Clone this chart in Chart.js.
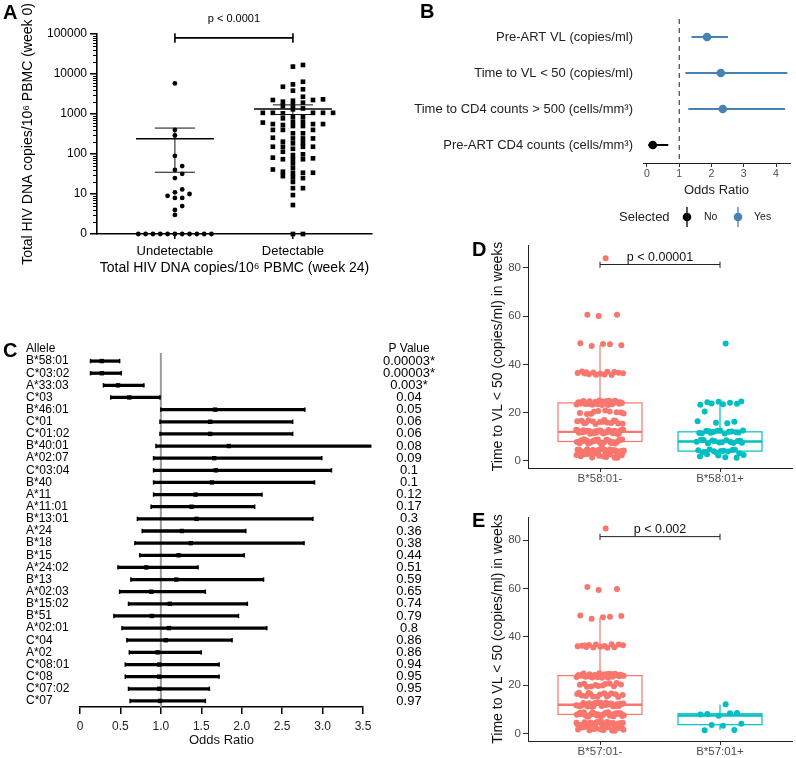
<!DOCTYPE html>
<html><head><meta charset="utf-8">
<script src="https://cdn.jsdelivr.net/npm/chart.js@4.4.0/dist/chart.umd.min.js"></script>
<style>
html,body{margin:0;padding:0;background:#fff;}
#wrap{position:relative;width:796px;height:758px;overflow:hidden;font-family:'Liberation Sans',Arial,Helvetica,sans-serif;}
canvas{position:absolute;}
.lab{position:absolute;font-weight:bold;font-size:20px;line-height:20px;color:#000;}
</style></head><body>
<div id="wrap">
<canvas id="cA" width="380" height="290" style="left:0;top:0"></canvas>
<canvas id="cB" width="396" height="235" style="left:400px;top:0"></canvas>
<canvas id="cC" width="445" height="438" style="left:0;top:320px"></canvas>
<canvas id="cD" width="396" height="258" style="left:400px;top:230px"></canvas>
<canvas id="cE" width="396" height="268" style="left:400px;top:490px"></canvas>
<div class="lab" style="left:3px;top:2px">A</div>
<div class="lab" style="left:420px;top:1px">B</div>
<div class="lab" style="left:3px;top:340px">C</div>
<div class="lab" style="left:472px;top:239px">D</div>
<div class="lab" style="left:472px;top:510px">E</div>
</div>
<script>
// ---------------- Panel A data ----------------
const aCategories = ['Undetectable', 'Detectable'];
const aUndetectable = [5800, 400, 290, 90, 50, 40, 32, 25, 13, 11, 10, 9, 8, 8, 5, 4, 3, 0, 0, 0, 0, 0, 0, 0, 0, 0, 0, 0];
const aDetectable = [16800, 15300,
  2330, 1070, 530, 255,
  2150, 1070, 645, 400, 203, 152, 135, 81, 41,
  6400, 4800, 2030, 1580, 855, 645, 500, 400, 245, 152, 74, 34, 28, 25,
  5500, 3830, 1680, 1310, 1070, 560, 330, 192, 98, 74, 58, 44, 33, 26, 20, 14, 14, 9.4, 5.3,
  4150, 2700, 1920, 1070, 560, 330, 245, 185, 152, 94, 74, 34,
  2240, 1380, 1070, 855, 560, 400, 245, 152, 114, 78, 36,
  2240, 1040, 780, 610, 500,
  0, 0];
const aMean = [240, 1330];
const aSpread = [205, 360];
const aYTicks = [1, 10, 100, 1000, 10000, 100000];
const aYTickLabels = ['0', '10', '100', '1000', '10000', '100000'];
const aPText = 'p < 0.0001';

// ---------------- Panel B data ----------------
const bFactors = ['Pre-ART VL (copies/ml)', 'Time to VL < 50 (copies/ml)', 'Time to CD4 counts > 500 (cells/mm\u00B3)', 'Pre-ART CD4 counts (cells/mm\u00B3)'];
const bOR = [1.86, 2.29, 2.35, 0.18];
const bLow = [1.39, 1.20, 1.29, 0.05];
const bHigh = [2.50, 4.34, 4.27, 0.65];
const bSelected = ['Yes', 'Yes', 'Yes', 'No'];
const bLegendLevels = ['No', 'Yes'];
const bXTicks = [0, 1, 2, 3, 4];

// ---------------- Panel C data ----------------
const cAlleles = ['B*58:01', 'C*03:02', 'A*33:03', 'C*03', 'B*46:01', 'C*01', 'C*01:02', 'B*40:01', 'A*02:07', 'C*03:04', 'B*40', 'A*11', 'A*11:01', 'B*13:01', 'A*24', 'B*18', 'B*15', 'A*24:02', 'B*13', 'A*02:03', 'B*15:02', 'B*51', 'A*02:01', 'C*04', 'A*02', 'C*08:01', 'C*08', 'C*07:02', 'C*07'];
const cOR = [0.27, 0.27, 0.47, 0.61, 1.67, 1.61, 1.61, 1.84, 1.66, 1.68, 1.63, 1.43, 1.38, 1.44, 1.26, 1.37, 1.22, 0.82, 1.19, 0.88, 1.11, 0.89, 1.10, 1.06, 0.96, 0.98, 0.98, 0.98, 0.99];
const cLow = [0.13, 0.13, 0.29, 0.38, 1.00, 0.99, 0.99, 0.94, 0.91, 0.91, 0.91, 0.91, 0.88, 0.71, 0.77, 0.68, 0.74, 0.47, 0.63, 0.49, 0.60, 0.42, 0.52, 0.58, 0.61, 0.56, 0.56, 0.60, 0.62];
const cHigh = [0.49, 0.51, 0.79, 0.99, 2.78, 2.63, 2.63, 3.60, 2.99, 3.11, 2.90, 2.25, 2.16, 2.88, 2.05, 2.77, 2.03, 1.46, 2.27, 1.55, 2.07, 1.96, 2.31, 1.88, 1.50, 1.72, 1.72, 1.60, 1.55];
const cPValues = ['0.00003*', '0.00003*', '0.003*', '0.04', '0.05', '0.06', '0.06', '0.08', '0.09', '0.1', '0.1', '0.12', '0.17', '0.3', '0.36', '0.38', '0.44', '0.51', '0.59', '0.65', '0.74', '0.79', '0.8', '0.86', '0.86', '0.94', '0.95', '0.95', '0.97'];
const cXTicks = [0, 0.5, 1, 1.5, 2, 2.5, 3, 3.5];
const cRefLine = 1;

// ---------------- Panel D data ----------------
const dCategories = ['B*58:01-', 'B*58:01+'];
const dNeg = [84.0, 60.6, 60.6, 60.1, 48.7, 48.3, 47.6, 47.9, 48.4,
  36.2, 36.8, 35.7, 36.4, 36.9, 35.9, 36.5, 36.1, 37.0, 35.6, 36.6, 36.3, 35.8, 36.7,
  24.6, 23.4, 24.1, 24.9, 23.7, 24.3, 23.1, 24.8, 23.9, 24.4, 23.3, 24.7, 23.6, 24.2, 25.0, 23.8, 24.5, 23.2, 24.0, 24.6, 23.5, 24.9, 23.9, 24.3, 23.1, 24.7, 23.6, 24.1, 24.5, 23.4,
  20.3, 19.6, 20.8, 19.4, 20.1, 20.6, 19.8, 20.4, 19.5, 20.0,
  16.2, 15.6, 16.7, 15.3, 16.4, 15.9, 16.8, 15.5, 16.1, 16.6, 15.7, 16.3, 15.4, 16.9, 15.8, 16.5,
  12.3, 11.6, 12.8, 11.2, 12.5, 11.9, 12.7, 11.4, 12.1, 12.9, 11.7, 12.4, 11.1, 12.6, 11.8, 12.2, 11.5, 12.8, 11.3, 12.0, 12.5, 11.6, 12.7, 11.9, 12.3, 11.2, 12.6, 11.8, 12.1, 11.4, 12.9, 11.7,
  8.4, 7.6, 8.8, 7.3, 8.2, 7.9, 8.6, 7.1, 8.9, 7.5, 8.3, 7.8, 8.7, 7.2, 8.1, 7.7, 8.5, 7.4, 8.0, 8.8, 7.6, 8.3, 7.2, 8.6, 7.9, 8.4, 7.5, 8.7, 7.1, 8.2, 7.8, 8.5,
  4.3, 3.6, 4.8, 3.2, 4.5, 3.9, 4.7, 3.4, 4.1, 4.9, 3.7, 4.4, 3.1, 4.6, 3.8, 4.2, 3.5, 4.8, 3.3, 4.0, 4.5, 3.6, 4.7, 3.9, 4.3, 3.2, 4.6, 3.8, 4.1, 3.4, 4.9, 3.7, 4.4, 3.5,
  2.4, 1.6, 2.8, 1.2, 2.1, 1.9, 2.6, 1.4, 2.3, 1.8, 2.7, 1.3];
const dPos = [48.6,
  24.3, 23.6, 24.5, 23.2, 24.1, 23.8, 24.6, 23.4,
  20.4,
  16.2, 15.8, 16.4, 15.6,
  12.2, 11.7, 12.5, 11.4, 12.1, 11.9, 12.6, 11.3, 12.3, 11.8, 12.4, 11.5, 12.0, 11.6,
  8.3, 7.7, 8.6, 7.4, 8.1, 7.9, 8.5, 7.2, 8.2, 7.6, 8.7, 7.8, 8.4, 7.5,
  4.2, 3.6, 4.6, 3.3, 4.4, 3.8, 4.7, 3.1, 4.1, 3.5, 4.5, 3.9,
  2.4, 1.5, 2.7, 1.2, 2.2, 1.8];
const dQ1 = [8, 4], dMedian = [12, 8], dQ3 = [24, 12], dWhiskLo = [1.2, 1.2], dWhiskHi = [48, 24];
const dPText = 'p < 0.00001';

// ---------------- Panel E data ----------------
const eCategories = ['B*57:01-', 'B*57:01+'];
const eNeg = [84.8, 60.6, 59.8, 59.4, 48.8, 48.3, 47.5, 48.6, 48.1,
  36.4, 35.7, 36.8, 36.1, 35.5, 36.6, 36.9, 35.9, 36.3, 37.0, 35.6, 36.5, 36.2, 35.8,
  24.5, 23.3, 24.2, 24.8, 23.6, 24.4, 23.1, 24.9, 23.8, 24.3, 23.4, 24.6, 23.7, 24.1, 25.0, 23.9, 24.7, 23.2, 24.0, 24.5, 23.5, 24.8, 23.8, 24.2, 23.1, 24.6, 23.7, 24.3, 24.4, 23.5, 24.0, 23.9,
  20.5, 19.4, 20.9, 19.7, 20.2, 20.7, 19.5, 20.3, 19.9, 20.6, 19.6, 20.1,
  16.4, 15.5, 16.8, 15.2, 16.2, 15.8, 16.6, 15.4, 16.0, 16.7, 15.6, 16.3, 15.3, 16.9, 15.9, 16.5,
  12.4, 11.5, 12.7, 11.3, 12.6, 11.8, 12.9, 11.2, 12.2, 12.8, 11.6, 12.5, 11.1, 12.3, 11.9, 12.1, 11.4, 12.7, 11.7, 12.0, 12.6, 11.5, 12.8, 11.8, 12.4, 11.3, 12.5, 11.9, 12.2, 11.6, 12.9, 11.4, 12.3, 11.7,
  8.5, 7.5, 8.9, 7.2, 8.3, 7.8, 8.7, 7.1, 8.6, 7.4, 8.2, 7.9, 8.8, 7.3, 8.0, 7.6, 8.4, 7.5, 8.1, 8.9, 7.7, 8.4, 7.2, 8.5, 7.8, 8.3, 7.6, 8.6, 7.1, 8.1, 7.9, 8.7, 7.4, 8.2,
  4.4, 3.5, 4.7, 3.3, 4.6, 3.8, 4.8, 3.2, 4.2, 4.9, 3.6, 4.3, 3.1, 4.5, 3.9, 4.1, 3.4, 4.7, 3.3, 4.0, 4.6, 3.7, 4.8, 3.8, 4.4, 3.1, 4.5, 3.9, 4.2, 3.5, 4.9, 3.6, 4.3, 3.4,
  2.5, 1.5, 2.9, 1.2, 2.2, 1.8, 2.7, 1.4, 2.4, 1.7, 2.6, 1.3, 2.0, 1.6];
const ePos = [12.2, 8.1, 8.6, 7.4, 7.9, 8.5, 3.6, 4.1, 3.3, 1.4, 1.5];
const eQ1 = [8, 3.75], eMedian = [12, 7.5], eQ3 = [24, 8.25], eWhiskLo = [1.2, 1.5], eWhiskHi = [48, 12];
const ePText = 'p < 0.002';
const deYTicks = [0, 20, 40, 60, 80];

// ---------------- common ----------------
const FF = "'Liberation Sans', Arial, Helvetica, sans-serif";
Chart.defaults.font.family = FF;
Chart.defaults.color = '#222';
Chart.defaults.animation = false;
Chart.defaults.responsive = false;
Chart.defaults.devicePixelRatio = 1;
Chart.defaults.plugins.legend.display = false;
Chart.defaults.plugins.tooltip.enabled = false;
if (Chart.defaults.plugins.colors) Chart.defaults.plugins.colors.enabled = false;
const tickArr = arr => (s => { s.ticks = arr.map(v => ({value: v})); });

// beeswarm offsets (column packing) on a log axis
function swarm(values, step, minGap) {
  const key = v => v <= 0 ? 0 : Math.log10(v);
  const order = values.map((v, i) => i).sort((a, b) => key(values[a]) - key(values[b]));
  const placed = [], out = new Array(values.length);
  for (const i of order) {
    const y = key(values[i]);
    for (let n = 0; ; n++) {
      const k = n === 0 ? 0 : (n % 2 ? (n + 1) / 2 : -n / 2);
      if (!placed.some(p => p.k === k && Math.abs(p.y - y) < minGap)) { placed.push({k, y}); out[i] = k * step; break; }
    }
  }
  return out;
}

// ================= Panel A =================
(function () {
  const offU = swarm(aUndetectable, 0.062, 0.115);
  const offD = swarm(aDetectable, 0.085, 0.1);
  const floorV = aYTicks[0];
  const plugin = {
    id: 'aExtras',
    afterDatasetsDraw(chart) {
      const {ctx, scales: {x, y}} = chart;
      ctx.save();
      ctx.strokeStyle = '#000';
      ctx.lineWidth = 1;
      for (let k = 0; k < 5; k++) for (let m = 2; m < 10; m++) {
        const py = Math.round(y.getPixelForValue(m * Math.pow(10, k))) + 0.5;
        ctx.beginPath(); ctx.moveTo(x.left - 4, py); ctx.lineTo(x.left, py); ctx.stroke();
      }
      aMean.forEach((m, g) => {
        const cx = x.getPixelForValue(g);
        const yM = y.getPixelForValue(m), yH = y.getPixelForValue(m + aSpread[g]), yL = y.getPixelForValue(m - aSpread[g]);
        ctx.strokeStyle = '#111'; ctx.lineWidth = 1;
        ctx.beginPath(); ctx.moveTo(cx, yH); ctx.lineTo(cx, yL); ctx.stroke();
        [yH, yL].forEach(py => { ctx.beginPath(); ctx.moveTo(x.getPixelForValue(g - 0.17), py); ctx.lineTo(x.getPixelForValue(g + 0.17), py); ctx.stroke(); });
        ctx.strokeStyle = '#000'; ctx.lineWidth = 1.6;
        ctx.beginPath(); ctx.moveTo(x.getPixelForValue(g - 0.33), yM); ctx.lineTo(x.getPixelForValue(g + 0.33), yM); ctx.stroke();
      });
      const by = y.getPixelForValue(80000), bt = y.getPixelForValue(60000);
      const x0 = x.getPixelForValue(0), x1 = x.getPixelForValue(1);
      ctx.lineWidth = 1.6; ctx.strokeStyle = '#000';
      ctx.beginPath(); ctx.moveTo(x0, y.getPixelForValue(105000)); ctx.lineTo(x0, bt); ctx.moveTo(x0, by); ctx.lineTo(x1, by); ctx.moveTo(x1, y.getPixelForValue(105000)); ctx.lineTo(x1, bt); ctx.stroke();
      ctx.fillStyle = '#000'; ctx.font = '11px ' + FF; ctx.textAlign = 'center'; ctx.textBaseline = 'middle';
      ctx.fillText(aPText, (x0 + x1) / 2, y.getPixelForValue(240000));
      ctx.restore();
    }
  };
  new Chart(document.getElementById('cA'), {
    type: 'scatter',
    data: {datasets: [
      {data: aUndetectable.map((v, i) => ({x: 0 + offU[i], y: Math.max(v, floorV)})), pointStyle: 'circle', pointRadius: 2.4, backgroundColor: '#000', borderColor: '#000', pointBackgroundColor: '#000', pointBorderWidth: 0, clip: false},
      {data: aDetectable.map((v, i) => ({x: 1 + offD[i], y: Math.max(v, floorV)})), pointStyle: 'rect', pointRadius: 3.3, backgroundColor: '#000', borderColor: '#000', pointBackgroundColor: '#000', pointBorderWidth: 0, clip: false}
    ]},
    options: {
      layout: {padding: {left: 0, top: 34, right: 8, bottom: 0}},
      scales: {
        x: {type: 'linear', min: -0.66, max: 1.67, afterBuildTicks: tickArr([0, 1]),
          afterFit: s => { s.height = 56; },
          ticks: {callback: v => aCategories[v], font: {size: 13}, color: '#000', padding: 5, maxRotation: 0},
          grid: {drawOnChartArea: false, tickLength: 5, color: '#000', lineWidth: 1.5},
          border: {display: true, color: '#000', width: 1.6},
          title: {display: true, text: 'Total HIV DNA copies/10\u2076 PBMC (week 24)', font: {size: 14}, color: '#000', padding: {top: 0, bottom: 13.6}}},
        y: {type: 'logarithmic', min: 1, max: 100000, afterBuildTicks: tickArr(aYTicks),
          afterFit: s => { s.width = 97; },
          ticks: {callback: (v, i) => aYTickLabels[i], font: {size: 12}, color: '#000', padding: 3},
          grid: {drawOnChartArea: false, tickLength: 7, color: '#000', lineWidth: 1.5},
          border: {display: true, color: '#000', width: 1.6},
          title: {display: true, text: 'Total HIV DNA copies/10\u2076 PBMC (week 0)', font: {size: 14}, color: '#000', padding: {top: 19.6, bottom: 0}}}
      }
    },
    plugins: [plugin]
  });
})();

// ================= Panel B =================
(function () {
  const colorOf = {No: '#000000', Yes: '#4682B4'};
  const cols = bSelected.map(s => colorOf[s]);
  const plugin = {
    id: 'bExtras',
    beforeDatasetsDraw(chart) {
      const {ctx, chartArea, scales: {x}} = chart;
      const px = x.getPixelForValue(1);
      ctx.save(); ctx.strokeStyle = '#333'; ctx.lineWidth = 1.1; ctx.setLineDash([5, 4]);
      ctx.beginPath(); ctx.moveTo(px, chartArea.top); ctx.lineTo(px, chartArea.bottom); ctx.stroke(); ctx.restore();
    },
    afterDraw(chart) {
      const ctx = chart.ctx;
      const ly = 217;
      ctx.save();
      ctx.fillStyle = '#222'; ctx.textBaseline = 'middle'; ctx.textAlign = 'left';
      ctx.font = '13px ' + FF;
      ctx.fillText('Selected', 219, ly);
      const keys = [{kx: 287, tx: 304}, {kx: 338, tx: 354}];
      bLegendLevels.forEach((lev, i) => {
        const k = keys[i];
        ctx.strokeStyle = colorOf[lev]; ctx.lineWidth = 1.3;
        ctx.beginPath(); ctx.moveTo(k.kx, ly - 10); ctx.lineTo(k.kx, ly + 10); ctx.stroke();
        ctx.fillStyle = colorOf[lev];
        ctx.beginPath(); ctx.arc(k.kx, ly, 4.3, 0, Math.PI * 2); ctx.fill();
        ctx.fillStyle = '#222'; ctx.font = '10.5px ' + FF;
        ctx.fillText(lev, k.tx, ly);
      });
      ctx.restore();
    }
  };
  new Chart(document.getElementById('cB'), {
    type: 'bar',
    data: {labels: bFactors, datasets: [
      {type: 'bar', indexAxis: 'y', order: 2, data: bLow.map((l, i) => [l, bHigh[i]]), backgroundColor: cols, borderColor: cols, borderWidth: 0, barThickness: 1.4, xAxisID: 'x', yAxisID: 'y', clip: false},
      {type: 'line', indexAxis: 'y', order: 1, data: bOR, showLine: false, pointRadius: 4.3, backgroundColor: cols, borderColor: cols, pointBackgroundColor: cols, pointBorderWidth: 0, xAxisID: 'x', yAxisID: 'y', clip: false}
    ]},
    options: {
      indexAxis: 'y',
      layout: {padding: {left: 0, top: 19, right: 6, bottom: 0}},
      scales: {
        y: {type: 'category', position: 'left', offset: true,
          afterFit: s => { s.width = 243; },
          ticks: {font: {size: 13}, color: '#222', crossAlign: 'near', padding: 10, autoSkip: false},
          grid: {display: false, drawTicks: false}, border: {display: false}},
        x: {type: 'linear', min: -0.124, max: 4.434, afterBuildTicks: tickArr(bXTicks),
          afterFit: s => { s.height = 72; },
          ticks: {font: {size: 10.5}, color: '#4d4d4d', padding: 1, maxRotation: 0},
          grid: {drawOnChartArea: false, tickLength: 4, color: '#333', lineWidth: 1},
          border: {display: true, color: '#222', width: 1},
          title: {display: true, text: 'Odds Ratio', font: {size: 13}, color: '#222', padding: {top: 0, bottom: 37}}}
      }
    },
    plugins: [plugin]
  });
})();

// ================= Panel C =================
(function () {
  const pFont = 13, pPad = 20;
  const plugin = {
    id: 'cExtras',
    beforeDatasetsDraw(chart) {
      const {ctx, chartArea, scales: {x}} = chart;
      const px = x.getPixelForValue(cRefLine);
      ctx.save(); ctx.strokeStyle = '#9a9a9a'; ctx.lineWidth = 2;
      ctx.beginPath(); ctx.moveTo(px, chartArea.top - 2); ctx.lineTo(px, chartArea.bottom); ctx.stroke(); ctx.restore();
    },
    afterDraw(chart) {
      const {ctx, scales: {y, yP}} = chart;
      const step = y.getPixelForValue(1) - y.getPixelForValue(0);
      const hy = y.getPixelForValue(0) - step;
      ctx.save(); ctx.fillStyle = '#000'; ctx.textBaseline = 'middle';
      ctx.font = pFont + 'px ' + FF;
      const widest = Math.max(...cPValues.map(t => ctx.measureText(t).width));
      const pcx = yP.left + pPad + widest / 2;
      ctx.font = '12px ' + FF;
      ctx.textAlign = 'left'; ctx.fillText('Allele', y.left, hy);
      ctx.textAlign = 'center'; ctx.fillText('P Value', pcx, hy);
      ctx.restore();
    }
  };
  const blk = '#000000';
  new Chart(document.getElementById('cC'), {
    type: 'bar',
    data: {labels: cAlleles, datasets: [
      {type: 'bar', indexAxis: 'y', order: 3, data: cLow.map((l, i) => [l, cHigh[i]]), backgroundColor: blk, borderColor: blk, borderWidth: 0, barThickness: 2.6, xAxisID: 'x', yAxisID: 'y', clip: false},
      {type: 'line', indexAxis: 'y', order: 1, data: cOR, showLine: false, pointStyle: 'rect', pointRadius: 3.1, backgroundColor: blk, borderColor: blk, pointBackgroundColor: blk, pointBorderColor: blk, pointBorderWidth: 0, xAxisID: 'x', yAxisID: 'y', clip: false},
      {type: 'line', indexAxis: 'y', order: 2, data: cLow, showLine: false, pointStyle: 'line', pointRotation: 90, pointRadius: 2.2, backgroundColor: blk, borderColor: blk, pointBorderColor: blk, pointBorderWidth: 1.5, xAxisID: 'x', yAxisID: 'y', clip: false},
      {type: 'line', indexAxis: 'y', order: 2, data: cHigh, showLine: false, pointStyle: 'line', pointRotation: 90, pointRadius: 2.2, backgroundColor: blk, borderColor: blk, pointBorderColor: blk, pointBorderWidth: 1.5, xAxisID: 'x', yAxisID: 'y', clip: false}
    ]},
    options: {
      indexAxis: 'y',
      layout: {padding: {left: 26, top: 35, right: 0, bottom: 0}},
      scales: {
        y: {type: 'category', position: 'left', offset: true,
          afterFit: s => { s.width = 54; },
          ticks: {font: {size: 12}, color: '#000', crossAlign: 'far', padding: 0, autoSkip: false},
          grid: {display: false, drawTicks: false}, border: {display: false}},
        yP: {type: 'category', axis: 'y', position: 'right', offset: true, labels: cPValues,
          afterFit: s => { s.width = 82; },
          ticks: {font: {size: pFont}, color: '#000', crossAlign: 'center', padding: pPad, autoSkip: false},
          grid: {display: false, drawTicks: false}, border: {display: false}},
        x: {type: 'linear', min: 0, max: 3.5, afterBuildTicks: tickArr(cXTicks),
          afterFit: s => { s.height = 51; },
          ticks: {font: {size: 12}, color: '#222', padding: 5, maxRotation: 0},
          grid: {drawOnChartArea: false, tickLength: 7, color: '#000', lineWidth: 1.5},
          border: {display: true, color: '#000', width: 1.5},
          title: {display: true, text: 'Odds Ratio', font: {size: 13}, color: '#111', padding: {top: 0, bottom: 10}}}
      }
    },
    plugins: [plugin]
  });
})();

// ================= Panels D & E =================
const jitter = i => ((((i + 1) * 0.6180339887) % 1) - 0.5) * 0.4;
function boxPanel(id, cats, groups, q1, med, q3, wLo, wHi, pText, padTop, xHeight) {
  const colors = ['#F8766D', '#00BFC4'];
  const plugin = {
    id: 'box_' + id,
    beforeDatasetsDraw(chart) {
      const {ctx, scales: {x, y}} = chart;
      ctx.save();
      cats.forEach((c, g) => {
        const cx = x.getPixelForValue(g + 1), xl = x.getPixelForValue(g + 1 - 0.35), xr = x.getPixelForValue(g + 1 + 0.35);
        ctx.strokeStyle = colors[g]; ctx.lineWidth = 1.2;
        ctx.beginPath();
        ctx.moveTo(cx, y.getPixelForValue(q3[g])); ctx.lineTo(cx, y.getPixelForValue(wHi[g]));
        ctx.moveTo(cx, y.getPixelForValue(q1[g])); ctx.lineTo(cx, y.getPixelForValue(wLo[g]));
        ctx.stroke();
        const yt = y.getPixelForValue(q3[g]), yb = y.getPixelForValue(q1[g]);
        ctx.fillStyle = '#fff'; ctx.fillRect(xl, yt, xr - xl, yb - yt);
        ctx.strokeRect(xl, yt, xr - xl, yb - yt);
        ctx.lineWidth = 2.4;
        const ym = y.getPixelForValue(med[g]);
        ctx.beginPath(); ctx.moveTo(xl, ym); ctx.lineTo(xr, ym); ctx.stroke();
      });
      ctx.restore();
    },
    afterDatasetsDraw(chart) {
      const {ctx, scales: {x, y}} = chart;
      const x0 = x.getPixelForValue(1), x1 = x.getPixelForValue(2);
      const by = y.getPixelForValue(81.4), bt = y.getPixelForValue(80.0), bu = y.getPixelForValue(82.6);
      ctx.save(); ctx.strokeStyle = '#222'; ctx.lineWidth = 1;
      ctx.beginPath(); ctx.moveTo(x0, bu); ctx.lineTo(x0, bt); ctx.moveTo(x0, by); ctx.lineTo(x1, by); ctx.moveTo(x1, bu); ctx.lineTo(x1, bt); ctx.stroke();
      ctx.fillStyle = '#111'; ctx.font = '12.5px ' + FF; ctx.textAlign = 'center'; ctx.textBaseline = 'alphabetic';
      ctx.fillText(pText, (x0 + x1) / 2, by - 4);
      ctx.restore();
    }
  };
  new Chart(document.getElementById(id), {
    type: 'scatter',
    data: {datasets: groups.map((vals, g) => ({
      data: vals.map((v, i) => ({x: g + 1 + jitter(i), y: v})),
      pointRadius: 3, backgroundColor: colors[g], borderColor: colors[g], pointBackgroundColor: colors[g], pointBorderWidth: 0, clip: false
    }))},
    options: {
      layout: {padding: {left: 0, top: padTop, right: 4, bottom: 0}},
      scales: {
        x: {type: 'linear', min: 0.4, max: 2.6, afterBuildTicks: tickArr([1, 2]),
          afterFit: s => { s.height = xHeight; },
          ticks: {callback: v => cats[v - 1], font: {size: 11.5}, color: '#4d4d4d', padding: 0, maxRotation: 0},
          grid: {drawOnChartArea: false, tickLength: 4, color: '#333', lineWidth: 1},
          border: {display: true, color: '#222', width: 1}},
        y: {type: 'linear', min: -3, max: 89.5, afterBuildTicks: tickArr(deYTicks),
          afterFit: s => { s.width = 128; },
          ticks: {font: {size: 11.5}, color: '#4d4d4d', padding: 2},
          grid: {drawOnChartArea: false, tickLength: 5, color: '#333', lineWidth: 1},
          border: {display: true, color: '#222', width: 1},
          title: {display: true, text: 'Time to VL < 50 (copies/ml) in weeks', font: {size: 14}, color: '#111', padding: {top: 89.6, bottom: 0}}}
      }
    },
    plugins: [plugin]
  });
}
boxPanel('cD', dCategories, [dNeg, dPos], dQ1, dMedian, dQ3, dWhiskLo, dWhiskHi, dPText, 15, 20);
boxPanel('cE', eCategories, [eNeg, ePos], eQ1, eMedian, eQ3, eWhiskLo, eWhiskHi, ePText, 27, 17);
</script>
</body></html>
